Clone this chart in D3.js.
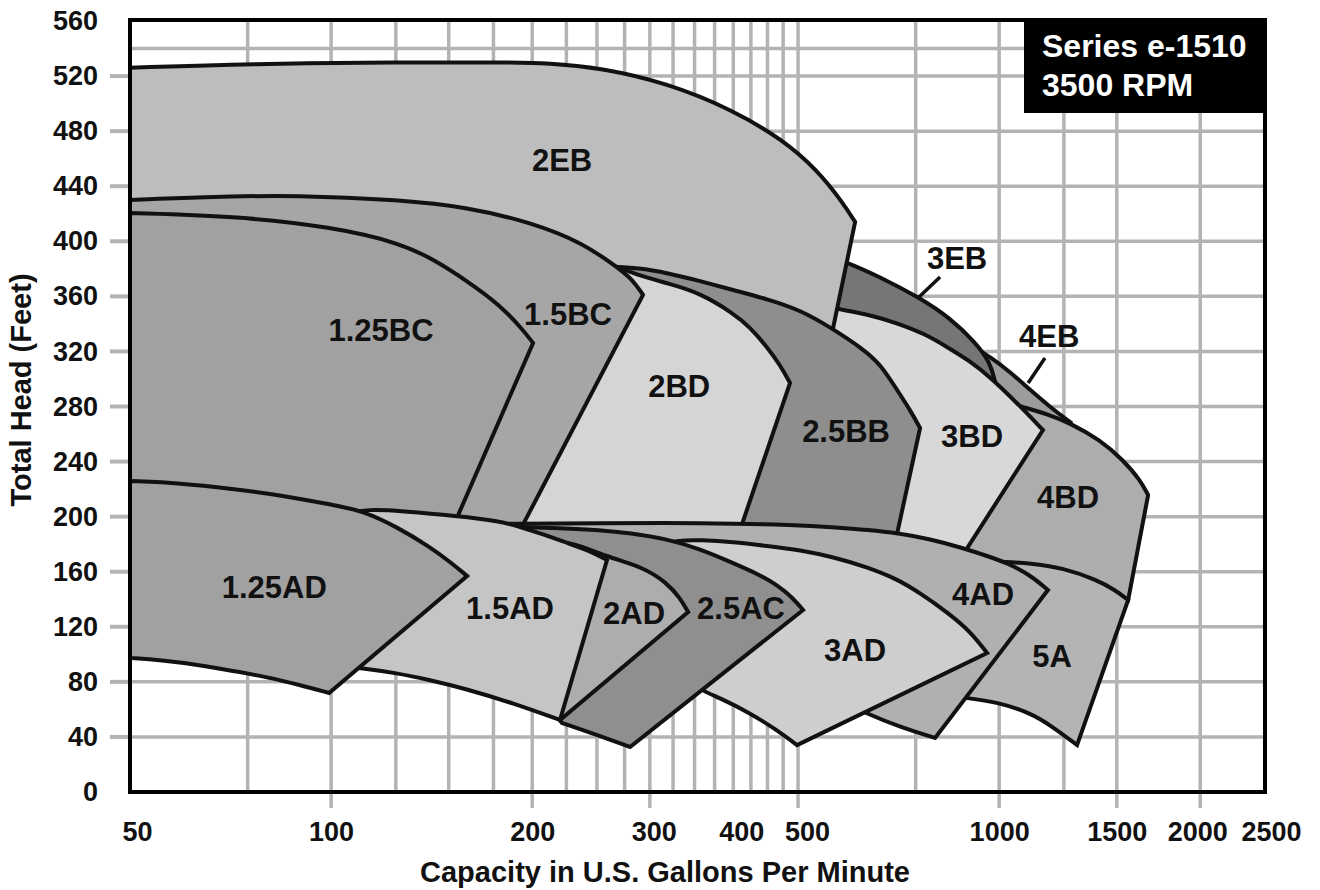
<!DOCTYPE html>
<html><head><meta charset="utf-8">
<script src="https://cdn.jsdelivr.net/npm/d3@7"></script>
<style>
html,body{margin:0;padding:0;background:#fff;}
svg{display:block;font-family:"Liberation Sans",Arial,Helvetica,sans-serif;font-weight:bold;}
</style></head><body>
<svg id="chart" width="1320" height="890"></svg>
<script>
// ---------- data ----------
const xTickValues = [50,100,200,300,400,500,1000,1500,2000,2500];
const yTickValues = [0,40,80,120,160,200,240,280,320,360,400,440,480,520,560];
const xGridValues = [75,100,125,150,175,200,225,250,275,300,325,350,375,400,425,450,475,500,750,1000,1250,1500,2000];
const xLongTicks = [100,200,300,500,1000,1500,2000];
const yGridValues = [40,80,120,160,200,240,280,320,360,400,440,480,520,540];
const yTickMarks = [40,80,120,160,200,240,280,320,360,400,440,480,520];
const xAxisTitle = "Capacity in U.S. Gallons Per Minute";
const yAxisTitle = "Total Head (Feet)";
const titleLines = ["Series e-1510","3500 RPM"];

// region outlines: arrays of edges, each edge a list of [gpm, head ft]
const edges4EB = [
  [[920.3,322.5],[969.3,316],[1039,305.1],[1113,292],[1192,279.6],[1277,268.7]],
  [[1277,268.7],[1234,262.9]],
  [[1234,262.9],[1094,266.6]],
  [[1094,266.6],[1003,270.2]],
  [[1003,270.2],[936.3,284.7]],
  [[936.3,284.7],[873.9,306.5]]
];
const edges4BD = [
  [[1003,284.7],[1086,279.6],[1179,274.5],[1277,268],[1416,255.7],[1533,241.1],[1626,226.6],[1671,215.7]],
  [[1671,215.7],[1560,139.5]],
  [[1560,139.5],[1401,146.7]],
  [[1401,146.7],[1247,155.4]],
  [[1247,155.4],[1028,159.8]],
  [[1028,159.8],[883,168.5]],
  [[883,168.5],[858.9,248.4]]
];
const edges3EB = [
  [[548.9,390],[590,385],[663.5,374.1],[761.4,358.8],[844.2,344.3],[920.3,326.8],[969.3,312.3],[986,298]],
  [[986,298],[936.3,299.2]],
  [[936.3,299.2],[844.2,310.1]],
  [[844.2,310.1],[710.7,321]],
  [[710.7,321],[590,328.3]],
  [[590,328.3],[548.9,328.3]]
];
const edges3BD = [
  [[539.6,353.7],[583.9,350.1],[641,346.5],[703.6,340.6],[774.6,332.7],[835.7,323.2],[904.5,313],[969.3,301.4],[1064,282.5],[1163,262.9]],
  [[1163,262.9],[880,171.4]],
  [[880,171.4],[710.7,179.4]],
  [[710.7,179.4],[539.6,179.4]]
];
const edges2EB = [
  [[50,526],[75.6,529],[126.8,530],[179,530],[212.7,529.5],[252.6,526],[318.4,515],[399.5,495.4],[474.8,473.6],[534,451.8],[583.9,427.8],[608.7,414]],
  [[608.7,414],[564.2,337]],
  [[564.2,337],[564.2,333.4]],
  [[564.2,333.4],[503.5,345.7],[399.5,360.3],[318.4,373.3],[270.7,377.7],[238.3,390],[200.6,404.6],[150.7,415.5],[89.8,422.7],[50,421.3]]
];
const edges25BB = [
  [[257,382],[290,380.6],[318.4,377],[356.7,371.2],[399.5,364.6],[449.4,358.1],[503.5,350.1],[558.4,337.7],[625.7,321.8],[663.5,310.9],[703.6,292],[735.6,277.5],[761.4,264.4]],
  [[761.4,264.4],[701.2,184.5]],
  [[701.2,184.5],[356.7,186.7]],
  [[356.7,186.7],[252.6,186.7]]
];
const edges2BD = [
  [[220.1,385],[238.3,385],[267.9,382],[290,374.8],[321.7,369],[356.7,362.4],[399.5,347.9],[423.7,337.7],[449.4,323.2],[470,310.1],[486.4,297.1]],
  [[486.4,297.1],[406.5,185.9]],
  [[406.5,185.9],[182.1,183]]
];
const edges15BC = [
  [[50,430],[63.7,432.2],[89.8,433.6],[126.8,430],[159.8,424.9],[200.6,413.3],[238.3,398.7],[267.9,381.3],[283.1,371.9],[293,361]],
  [[293,361],[189.8,185.9]],
  [[189.8,185.9],[126.8,190.3]],
  [[126.8,190.3],[99.7,193.9]],
  [[99.7,193.9],[50,215.7]]
];
const edges125BC = [
  [[50,420.5],[71.3,418.4],[100.7,410.4],[126.8,398.7],[142.1,387.1],[159.8,371.2],[179,353.7],[193.8,335.6],[200.6,326.1]],
  [[200.6,326.1],[152.2,192.5]],
  [[152.2,192.5],[106.7,196.1]],
  [[106.7,196.1],[50,215.7]]
];
const edges5A = [
  [[1003,167.1],[1113,166.3],[1247,162.7],[1401,154],[1491,146.7],[1560,139.5]],
  [[1560,139.5],[1308,34.1]],
  [[1308,34.1],[1192,48.7],[1113,57.4],[993,65.4],[895.2,68.3],[815.8,70.5]],
  [[815.8,70.5],[969.3,161.2]]
];
const edges4AD = [
  [[179,194.7],[252.6,195.4],[356.7,195.4],[503.5,193.9],[558.4,192.5],[641,190.3],[703.6,188.1],[788.1,183.8],[883,177.2],[969.3,170.7],[1028,166.3],[1113,157.6],[1183,146.7]],
  [[1183,146.7],[801.8,39.2]],
  [[801.8,39.2],[710.7,47.2],[634.4,56.7],[577.8,66.8]],
  [[577.8,66.8],[356.7,139.5]],
  [[356.7,139.5],[300.2,146.7]],
  [[300.2,146.7],[179,168.5]]
];
const edges3AD = [
  [[305.4,179.4],[333,183],[356.7,183],[399.5,181.6],[449.4,178.7],[503.5,175.8],[564.2,170.7],[634.4,163.4],[703.6,154.7],[761.4,144.5],[835.7,130.7],[904.5,116.9],[959.2,101]],
  [[959.2,101],[498.3,34.1]],
  [[498.3,34.1],[462,45.8],[423.7,57.4],[382,68.3],[356.7,74.1],[344.7,81.3]]
];
const edges25AC = [
  [[191.8,192.5],[220.1,191.7],[252.6,190.3],[280.2,188.1],[318.4,183.8],[356.7,176.5],[399.5,166.3],[438.7,157.6],[465.2,150.3],[489.8,141.6],[508.7,132.2]],
  [[508.7,132.2],[280.2,32.7]],
  [[280.2,32.7],[252.6,40.7],[221.7,50.1]],
  [[221.7,50.1],[216.4,58.1]],
  [[216.4,58.1],[205.5,139.5]]
];
const edges2AD = [
  [[198.5,183],[227.9,182.3],[258.8,170.7],[293,163.4],[318.4,151.8],[333,140.9],[342.3,130.7]],
  [[342.3,130.7],[220.1,52.3]],
  [[220.1,52.3],[212.7,66.8]]
];
const edges15AD = [
  [[102.4,201.9],[114.4,205.6],[126.8,204.1],[154.3,200.5],[179,196.8],[191.8,192.5],[209.1,186.7],[225.5,180.9],[244.1,175],[258.8,168.5]],
  [[258.8,168.5],[220.1,52.3]],
  [[220.1,52.3],[187.2,64.6],[157.6,75.5],[140.6,81.3],[125.5,86.4],[110.5,90.1],[103.1,91.5]]
];
const edges125AD = [
  [[50,225.9],[59.4,224.4],[71.3,220.1],[83.9,215.7],[100.7,208.5],[111.7,204.1],[125.5,192.5],[140.6,178],[150.7,167.1],[159.8,156.9]],
  [[159.8,156.9],[99.3,71.9]],
  [[99.3,71.9],[89.8,77.7],[80.2,83.5],[71.3,87.9],[63.7,92.2],[55.5,95.9],[50,97.3]]
];

const labelNames = ["2EB","1.25BC","1.5BC","2BD","2.5BB","3BD","4BD","3EB","4EB","1.25AD","1.5AD","2AD","2.5AC","3AD","4AD","5A"];
const labelGpm   = [221.7,118.8,226.3,331.9,590,911,1268,865,1188,82.2,185.3,284.1,410.8,608.7,946,1200];
const labelHead  = [459,335.6,347.2,294.9,262.2,258.6,214.3,387.9,331.2,148.9,133.6,130,133.6,103.1,143.8,98.8];
const pointer3EB = [[815.8,374.1],[756,358.8]];
const pointer4EB = [[1171,315.2],[1105,297.1]];

// ---------- drawing ----------
const svg = d3.select("#chart");
const x = d3.scaleLog().domain([50,2500]).range([130,1265]);
const y = d3.scaleLinear().domain([0,560]).range([792,21]);
const GRID = "#b3b3b3", INK = "#111";

const layers = [
  {name:"4EB", edges:edges4EB, fill:"#9c9c9c"},
  {name:"4BD", edges:edges4BD, fill:"#adadad"},
  {name:"3EB", edges:edges3EB, fill:"#767676"},
  {name:"3BD", edges:edges3BD, fill:"#d8d8d8"},
  {name:"2EB", edges:edges2EB, fill:"#bdbdbd"},
  {name:"2.5BB", edges:edges25BB, fill:"#8e8e8e"},
  {name:"2BD", edges:edges2BD, fill:"#d5d5d5"},
  {name:"1.5BC", edges:edges15BC, fill:"#a6a6a6"},
  {name:"1.25BC", edges:edges125BC, fill:"#a1a1a1"},
  {name:"5A", edges:edges5A, fill:"#b4b4b4"},
  {name:"4AD", edges:edges4AD, fill:"#b0b0b0"},
  {name:"3AD", edges:edges3AD, fill:"#cecece"},
  {name:"2.5AC", edges:edges25AC, fill:"#8f8f8f"},
  {name:"2AD", edges:edges2AD, fill:"#adadad"},
  {name:"1.5AD", edges:edges15AD, fill:"#c5c5c5"},
  {name:"1.25AD", edges:edges125AD, fill:"#a1a1a1"}
];

// grid
const grid = svg.append("g");
grid.selectAll("line.v").data(xGridValues).join("line")
  .attr("x1", d=>x(d)).attr("x2", d=>x(d))
  .attr("y1", y(560)).attr("y2", d=> xLongTicks.includes(d) ? 808 : y(0))
  .attr("stroke", GRID).attr("stroke-width", 3.5);
grid.selectAll("line.h").data(yGridValues).join("line")
  .attr("x1", x(50)).attr("x2", x(2500))
  .attr("y1", d=>y(d)).attr("y2", d=>y(d))
  .attr("stroke", GRID).attr("stroke-width", 3.5);
grid.selectAll("line.t").data(yTickMarks).join("line")
  .attr("x1", 110).attr("x2", x(50))
  .attr("y1", d=>y(d)).attr("y2", d=>y(d))
  .attr("stroke", GRID).attr("stroke-width", 4);

// regions
svg.append("clipPath").attr("id","plotclip").append("rect")
  .attr("x", x(50)).attr("y", y(560)).attr("width", x(2500)-x(50)).attr("height", y(0)-y(560));
const lineGen = d3.line().x(d=>x(d[0])).y(d=>y(d[1]));
function regionPath(edges){
  let s = "";
  edges.forEach((e,i)=>{
    lineGen.curve(e.length>2 ? d3.curveBasis : d3.curveLinear);
    let p = lineGen(e);
    if(i>0) p = "L" + p.slice(1);
    s += p;
  });
  return s + "Z";
}
const regG = svg.append("g").attr("clip-path","url(#plotclip)");
regG.selectAll("path").data(layers).join("path")
  .attr("d", d=>regionPath(d.edges))
  .attr("fill", d=>d.fill)
  .attr("stroke", INK).attr("stroke-width", 4)
  .attr("stroke-linejoin","miter").attr("stroke-miterlimit", 6);

// pointers
const ptrLine = d3.line().x(d=>x(d[0])).y(d=>y(d[1]));
svg.selectAll("path.ptr").data([pointer3EB, pointer4EB]).join("path")
  .attr("d", ptrLine).attr("stroke", INK).attr("stroke-width", 3.5).attr("fill","none");

// labels
svg.append("g").selectAll("text").data(labelNames).join("text")
  .attr("x", (d,i)=>x(labelGpm[i])).attr("y", (d,i)=>y(labelHead[i]))
  .attr("dy","0.36em").attr("text-anchor","middle")
  .attr("font-size", 31).attr("fill", INK).text(d=>d);

// frame
svg.append("rect").attr("x", x(50)).attr("y", y(560)-1).attr("width", x(2500)-x(50)).attr("height", y(0)-y(560)+1)
  .attr("fill","none").attr("stroke","#000").attr("stroke-width", 4);

// axes
const xNudge = {50:7, 300:4, 400:8, 500:9, 2000:-3, 2500:6};
const xAx = svg.append("g").attr("transform", `translate(0,${y(0)})`)
  .call(d3.axisBottom(x).tickValues(xTickValues).tickFormat(d=>String(d)).tickSize(0).tickPadding(30));
xAx.select(".domain").remove();
xAx.selectAll("text").attr("font-size", 27).attr("font-family", null).attr("fill", INK)
  .attr("dx", d=> xNudge[d] || 0);
const yAx = svg.append("g").attr("transform", `translate(${x(50)},0)`)
  .call(d3.axisLeft(y).tickValues(yTickValues).tickSize(0).tickPadding(32));
yAx.select(".domain").remove();
yAx.selectAll("text").attr("font-size", 27).attr("font-family", null).attr("fill", INK);

svg.append("text").attr("x", 665).attr("y", 882).attr("text-anchor","middle")
  .attr("font-size", 29).attr("fill", INK).text(xAxisTitle);
svg.append("text").attr("transform","translate(21,390) rotate(-90)")
  .attr("text-anchor","middle").attr("dy","0.36em")
  .attr("font-size", 29).attr("fill", INK).text(yAxisTitle);

// title box
svg.append("rect").attr("x", 1024).attr("y", 19).attr("width", x(2500)+1-1024).attr("height", 94).attr("fill","#000");
svg.selectAll("text.ttl").data(titleLines).join("text")
  .attr("x", 1042).attr("y", (d,i)=> 57 + i*39)
  .attr("font-size", 32).attr("fill","#fff").text(d=>d);
</script>
</body></html>
